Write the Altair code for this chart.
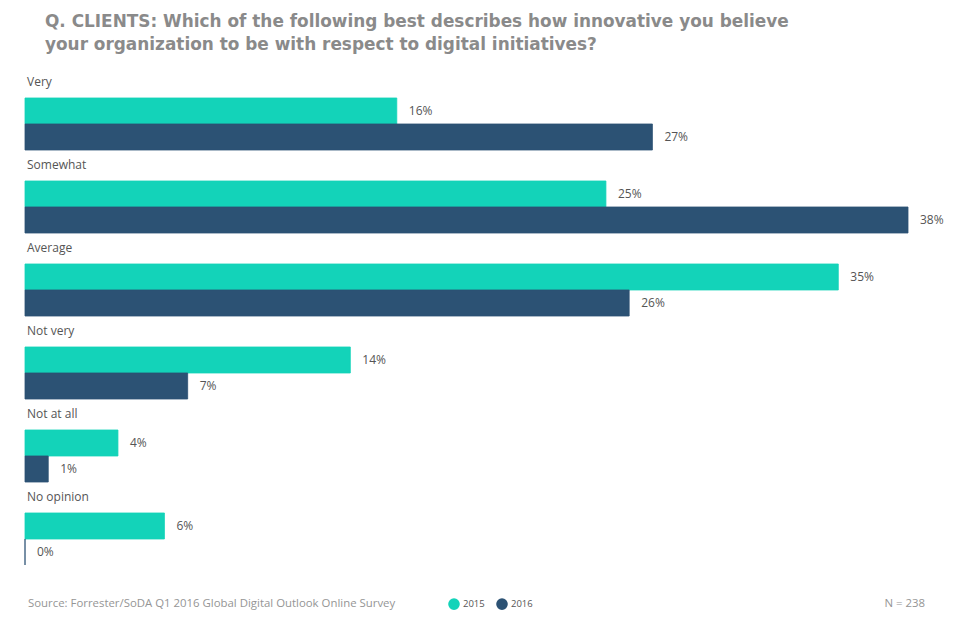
import altair as alt
import pandas as pd

categories = ["Very", "Somewhat", "Average", "Not very", "Not at all", "No opinion"]
years = ["2015", "2016"]
values_2015 = [16, 25, 35, 14, 4, 6]
values_2016 = [27, 38, 26, 7, 1, 0]
colors = ["#13D3B9", "#2C5274"]

title_lines = [
    "Q. CLIENTS: Which of the following best describes how innovative you believe",
    "your organization to be with respect to digital initiatives?",
]
source_text = "Source: Forrester/SoDA Q1 2016 Global Digital Outlook Online Survey"
n_text = "N = 238"

rows = []
for c, a, b in zip(categories, values_2015, values_2016):
    rows.append({"cat": c, "year": "2015", "value": a, "label": f"{a}%"})
    rows.append({"cat": c, "year": "2016", "value": b, "label": f"{b}%"})
df = pd.DataFrame(rows)
cat_df = pd.DataFrame({"cat": categories})

W = 883
H = 498
FONT = "Open Sans"
TXT = "#555555"
FOOT = "#959595"

yscale = alt.Scale(domain=categories, paddingInner=0, paddingOuter=0)
xscale = alt.Scale(domain=[0, 38], nice=False)
offscale = alt.Scale(domain=years, paddingInner=0, paddingOuter=0.596, align=1)
colscale = alt.Scale(domain=years, range=colors)

bars = alt.Chart(df).mark_bar(strokeWidth=0.8).encode(
    y=alt.Y("cat:N", scale=yscale, sort=categories, axis=None),
    yOffset=alt.YOffset("year:N", scale=offscale, sort=years),
    x=alt.X("value:Q", scale=xscale, axis=None),
    stroke=alt.Stroke("year:N", scale=colscale, legend=None),
    color=alt.Color("year:N", scale=colscale,
                    legend=alt.Legend(title=None, orient="none", direction="horizontal",
                                      legendX=423, legendY=531, symbolType="circle",
                                      symbolSize=135, labelFontSize=9.5, labelFont=FONT,
                                      labelColor=TXT, labelOffset=3, columnPadding=11,
                                      symbolStrokeWidth=0)),
)

values_text = alt.Chart(df).mark_text(
    align="left", baseline="middle", dx=12, font=FONT, fontSize=12, color=TXT
).encode(
    y=alt.Y("cat:N", scale=yscale, sort=categories),
    yOffset=alt.YOffset("year:N", scale=offscale, sort=years),
    x=alt.X("value:Q", scale=xscale),
    text="label:N",
)

cat_text = alt.Chart(cat_df).mark_text(
    align="left", baseline="middle", dx=2, dy=15, font=FONT, fontSize=12, color=TXT
).encode(
    y=alt.Y("cat:N", scale=yscale, sort=categories, bandPosition=0),
    x=alt.datum(0, scale=xscale),
    text="cat:N",
)

source = alt.Chart(cat_df.head(1)).mark_text(
    align="left", baseline="middle", font=FONT, fontSize=11.4, color=FOOT
).encode(x=alt.value(3), y=alt.value(H + 39), text=alt.value(source_text))

nlabel = alt.Chart(cat_df.head(1)).mark_text(
    align="right", baseline="middle", font=FONT, fontSize=11.4, color=FOOT
).encode(x=alt.value(900), y=alt.value(H + 39), text=alt.value(n_text))

chart = alt.layer(bars, values_text, cat_text, source, nlabel).properties(
    width=W,
    height=H,
    autosize=alt.AutoSizeParams(type="none"),
    padding={"left": 17, "top": 59, "right": 40, "bottom": 55},
    title=alt.TitleParams(
        text=title_lines, anchor="start", frame="group", font="DejaVu Sans", fontSize=16.9,
        fontWeight="bold", color="#8a8a8a", dx=20, offset=13, lineHeight=23,
    ),
).configure(background="white").configure_view(stroke=None)

chart.save("out.html", embed_options={"renderer": "svg", "actions": False})
